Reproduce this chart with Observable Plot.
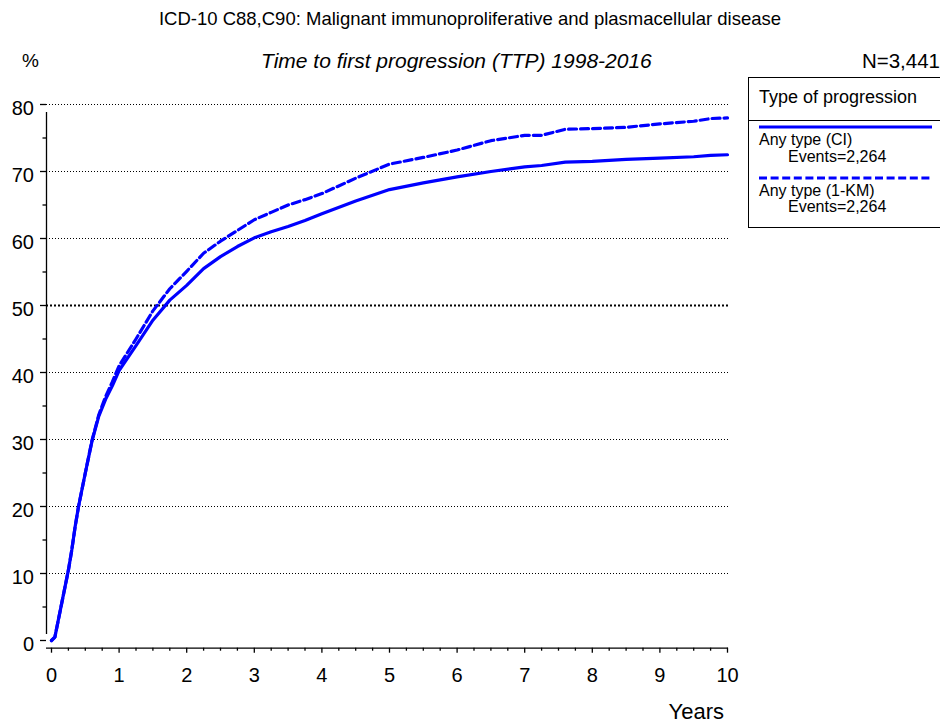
<!DOCTYPE html>
<html>
<head>
<meta charset="utf-8">
<script src="https://cdn.jsdelivr.net/npm/d3@7"></script>
<script src="https://cdn.jsdelivr.net/npm/@observablehq/plot@0.6"></script>
<style>
  body { margin: 0; background: #fff; }
  #wrap { position: relative; width: 940px; height: 728px; font-family: "Liberation Sans", Arial, sans-serif; color: #000; overflow: hidden; }
  #wrap svg.plot { position: absolute; left: 0; top: 0; }
  .abs { position: absolute; white-space: nowrap; line-height: 1; }
  #legend { position: absolute; left: 748px; top: 77px; width: 200px; height: 151px; border: 1.5px solid #000; box-sizing: border-box; background: #fff; }
</style>
</head>
<body>
<div id="wrap">
  <div class="abs" id="title" style="left:0;width:940px;text-align:center;top:10px;font-size:18.5px;">ICD-10 C88,C90: Malignant immunoproliferative and plasmacellular disease</div>
  <div class="abs" id="subtitle" style="left:261px;top:50px;font-size:21px;font-style:italic;">Time to first progression (TTP) 1998-2016</div>
  <div class="abs" style="left:22px;top:51px;font-size:19px;">%</div>
  <div class="abs" style="right:0;top:51px;font-size:20.5px;">N=3,441</div>
  <div class="abs" style="right:216px;top:701px;font-size:22px;">Years</div>
  <div id="legend"></div>
</div>
<script>
const years = [0, 0.05, 0.1, 0.15, 0.2, 0.25, 0.3, 0.35, 0.4, 0.5, 0.6, 0.7, 0.8, 0.9, 1.0, 1.25, 1.5, 1.75, 2.0, 2.25, 2.5, 2.75, 3.0, 3.25, 3.5, 3.75, 4.0, 4.5, 5.0, 5.5, 6.0, 6.5, 7.0, 7.25, 7.6, 8.0, 8.5, 9.0, 9.5, 9.75, 10];
const ciValues = [0, 0.5, 3, 5.5, 8, 10.5, 13.5, 17, 20, 25, 29.8, 33.5, 36, 38, 40.3, 44, 47.8, 50.8, 53, 55.5, 57.3, 58.8, 60.1, 61, 61.8, 62.7, 63.7, 65.6, 67.3, 68.3, 69.2, 70, 70.7, 70.9, 71.4, 71.5, 71.8, 72.0, 72.2, 72.4, 72.5];
const kmValues = [0, 0.5, 3, 5.5, 8, 10.5, 13.5, 17, 20, 25, 29.9, 33.7, 36.4, 38.6, 41, 45, 49.2, 52.5, 55.1, 57.8, 59.6, 61.2, 62.8, 63.9, 65, 65.8, 66.7, 69, 71.1, 72.1, 73.2, 74.6, 75.4, 75.4, 76.3, 76.4, 76.6, 77.1, 77.5, 77.9, 78];
const seriesNames = ["Any type (CI)", "Any type (1-KM)"];
const seriesEvents = ["Events=2,264", "Events=2,264"];
const yMajorTicks = [0, 10, 20, 30, 40, 50, 60, 70, 80];
const yMinorTicks = [5, 15, 25, 35, 45, 55, 65, 75];
const xMajorTicks = [0, 1, 2, 3, 4, 5, 6, 7, 8, 9, 10];
const xMinorTicks = d3.range(0, 10.01, 0.25).filter(d => Math.abs(d - Math.round(d)) > 1e-9);
const gridTicks = [10, 20, 30, 40, 60, 70, 80];
const boldGrid = [50];

const blue = "#0000ff";
const ci = years.map((t, i) => ({t, v: ciValues[i]}));
const km = years.map((t, i) => ({t, v: kmValues[i]}));

const font = "Liberation Sans, Arial, sans-serif";

const chart = Plot.plot({
  width: 940,
  height: 728,
  marginLeft: 51,
  marginRight: 213,
  marginTop: 104,
  marginBottom: 88,
  style: {fontFamily: font, background: "transparent", overflow: "visible"},
  x: {domain: [0, 10], axis: null},
  y: {domain: [0, 80], axis: null},
  marks: [
    Plot.ruleY(gridTicks, {stroke: "#000", strokeWidth: 1, strokeDasharray: "1,2", insetLeft: -5, insetRight: -3}),
    Plot.ruleY(boldGrid, {stroke: "#000", strokeWidth: 2, strokeDasharray: "2,2", insetLeft: -5, insetRight: -3}),
    // axis lines
    Plot.ruleX([0], {dx: -5, y1: 0, y2: 80, insetTop: -6, insetBottom: -8, stroke: "#000", strokeWidth: 1.3}),
    Plot.ruleY([0], {dy: 7.7, insetLeft: -5, insetRight: -1, stroke: "#000", strokeWidth: 1.3}),
    // y ticks and labels
    Plot.axisY(yMajorTicks, {dx: -5, tickSize: 6, tickFormat: () => "", strokeWidth: 1.3, label: null}),
    Plot.axisY(yMinorTicks, {dx: -5, tickSize: 3.5, tickFormat: () => "", strokeWidth: 1.3, label: null}),
    Plot.axisY(yMajorTicks, {dx: -5, dy: 4, tickSize: 0, tickPadding: 12.5, fontSize: 20, fill: "#000", label: null}),
    // x ticks and labels
    Plot.axisX(xMajorTicks, {dy: 7.7, tickSize: 5, tickFormat: () => "", strokeWidth: 1.3, label: null}),
    Plot.axisX(xMinorTicks, {dy: 7.7, tickSize: 3, tickFormat: () => "", strokeWidth: 1.3, label: null}),
    Plot.axisX(xMajorTicks, {dy: 7.7, tickSize: 0, tickPadding: 20, fontSize: 20, fill: "#000", label: null}),
    // curves
    Plot.line(km, {x: "t", y: "v", stroke: blue, strokeWidth: 3.2, strokeDasharray: "8,4", strokeLinejoin: "round"}),
    Plot.line(ci, {x: "t", y: "v", stroke: blue, strokeWidth: 3.2, strokeLinejoin: "round", strokeLinecap: "round"})
  ]
});
chart.classList.add("plot");
const wrap = document.getElementById("wrap");
wrap.insertBefore(chart, wrap.firstChild);

// legend
const legend = document.getElementById("legend");
const dashes = [null, "8,3.6"];
legend.innerHTML =
  `<div class="abs" style="left:10px;top:10px;font-size:18px;">Type of progression</div>
   <div style="position:absolute;left:0;top:42px;width:100%;border-top:1.5px solid #000;"></div>` +
  seriesNames.map((name, i) => {
    const top = 46 + i * 50.5;
    return `<svg style="position:absolute;left:10px;top:${top}px" width="175" height="6"><line x1="0" x2="173" y1="3" y2="3" stroke="${blue}" stroke-width="3" ${dashes[i] ? `stroke-dasharray="${dashes[i]}"` : ""}/></svg>
      <div class="abs" style="left:10px;top:${top + 8}px;font-size:16px;">${name}</div>
      <div class="abs" style="left:39px;top:${top + 24.5}px;font-size:16px;">${seriesEvents[i]}</div>`;
  }).join("");
</script>
</body>
</html>
